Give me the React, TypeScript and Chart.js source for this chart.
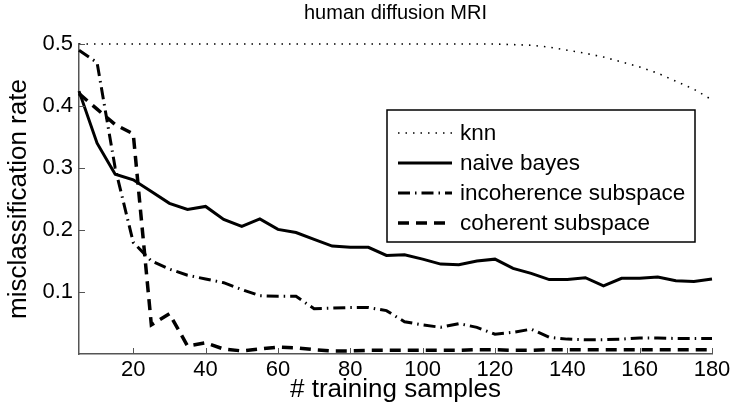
import React, { useEffect, useRef } from 'react';
import { Chart, registerables } from 'chart.js';

Chart.register(...registerables);

// ---- data ----
const samples = [5, 10, 15, 20, 25, 30, 35, 40, 45, 50, 55, 60, 65, 70, 75, 80, 85, 90, 95, 100, 105, 110, 115, 120, 125, 130, 135, 140, 145, 150, 155, 160, 165, 170, 175, 180];

const knn = [0.5, 0.5, 0.5, 0.5, 0.5, 0.5, 0.5, 0.5, 0.5, 0.5, 0.5, 0.5, 0.5, 0.5, 0.5, 0.5, 0.5, 0.5, 0.5, 0.5, 0.5, 0.5, 0.5, 0.5, 0.499, 0.498, 0.495, 0.49, 0.485, 0.479, 0.471, 0.463, 0.453, 0.44, 0.427, 0.41];

const naiveBayes = [0.424, 0.34, 0.29, 0.281, 0.262, 0.243, 0.233, 0.238, 0.217, 0.206, 0.218, 0.201, 0.196, 0.185, 0.174, 0.172, 0.172, 0.159, 0.16, 0.153, 0.145, 0.144, 0.15, 0.153, 0.138, 0.13, 0.12, 0.12, 0.123, 0.11, 0.122, 0.122, 0.124, 0.118, 0.117, 0.121];

const incoherence = [0.49, 0.47, 0.3, 0.18, 0.15, 0.137, 0.127, 0.121, 0.115, 0.104, 0.094, 0.093, 0.093, 0.073, 0.074, 0.075, 0.075, 0.07, 0.052, 0.047, 0.043, 0.049, 0.043, 0.032, 0.035, 0.04, 0.027, 0.024, 0.023, 0.023, 0.024, 0.026, 0.026, 0.025, 0.025, 0.025];

const coherent = [0.42, 0.395, 0.37, 0.355, 0.047, 0.065, 0.013, 0.018, 0.008, 0.005, 0.008, 0.011, 0.01, 0.007, 0.005, 0.005, 0.006, 0.006, 0.006, 0.006, 0.006, 0.006, 0.007, 0.007, 0.006, 0.006, 0.007, 0.007, 0.007, 0.007, 0.007, 0.007, 0.007, 0.007, 0.007, 0.007];

const seriesNames = ['knn', 'naive bayes', 'incoherence subspace', 'coherent subspace'];
const xTicks = [20, 40, 60, 80, 100, 120, 140, 160, 180];
const yTicks = [0.1, 0.2, 0.3, 0.4, 0.5];

const titleText = 'human diffusion MRI';
const xTitle = '# training samples';
const yTitle = 'misclassification rate';

const FONT = '"Liberation Sans", Arial, Helvetica, sans-serif';
const AXIS = '#555';

const legendPlugin = {
  id: 'boxLegend',
  afterDraw(chart: any) {
    const { ctx, chartArea: ca } = chart;
    const left = ca.left + 308;
    const top = ca.top + 66;
    const w = 308;
    const h = 132;
    ctx.save();
    ctx.fillStyle = '#fff';
    ctx.fillRect(left, top, w, h);
    ctx.strokeStyle = '#000';
    ctx.lineWidth = 1.5;
    ctx.setLineDash([]);
    ctx.strokeRect(left, top, w, h);
    chart.data.datasets.forEach((ds: any, i: number) => {
      const y = top + 23 + i * 30;
      ctx.beginPath();
      ctx.setLineDash(ds.borderDash || []);
      ctx.lineWidth = ds.borderWidth;
      ctx.strokeStyle = ds.borderColor;
      ctx.moveTo(left + 11, y);
      ctx.lineTo(left + 65, y);
      ctx.stroke();
      ctx.setLineDash([]);
      ctx.fillStyle = '#000';
      ctx.font = `22.5px ${FONT}`;
      ctx.textBaseline = 'middle';
      ctx.textAlign = 'left';
      ctx.fillText(ds.label, left + 73, y + 1);
    });
    ctx.restore();
  },
};

const inwardTicks = {
  id: 'inwardTicks',
  afterDraw(chart: any) {
    const { ctx, chartArea: ca, scales } = chart;
    ctx.save();
    ctx.strokeStyle = AXIS;
    ctx.lineWidth = 1;
    ctx.beginPath();
    xTicks.forEach((v) => {
      const px = Math.round(scales.x.getPixelForValue(v)) + 0.5;
      ctx.moveTo(px, ca.bottom);
      ctx.lineTo(px, ca.bottom - 6);
    });
    yTicks.forEach((v) => {
      const py = Math.round(scales.y.getPixelForValue(v)) + 0.5;
      ctx.moveTo(ca.left, py);
      ctx.lineTo(ca.left + 6, py);
    });
    ctx.stroke();
    ctx.restore();
  },
};

export default function App() {
  const ref = useRef<HTMLCanvasElement>(null);
  useEffect(() => {
    if (!ref.current) return;
    const styles = [
      { dash: [1.5, 6], width: 1.6 },
      { dash: [], width: 3 },
      { dash: [12, 5, 1.5, 5], width: 3 },
      { dash: [11, 7], width: 3.5 },
    ];
    const series = [knn, naiveBayes, incoherence, coherent];
    const chart = new Chart(ref.current, {
      type: 'line',
      data: {
        datasets: series.map((s, i) => ({
          label: seriesNames[i],
          data: samples.map((x, j) => ({ x, y: s[j] })),
          borderColor: '#000',
          backgroundColor: '#000',
          borderWidth: styles[i].width,
          borderDash: styles[i].dash,
          pointRadius: 0,
          tension: 0,
          fill: false,
          clip: false as any,
        })),
      },
      options: {
        animation: false,
        responsive: false,
        layout: { padding: { left: 0, right: 22, top: 0, bottom: 0 } },
        plugins: {
          legend: { display: false },
          tooltip: { enabled: false },
          title: {
            display: true,
            fullSize: false,
            text: titleText,
            color: '#000',
            font: { family: FONT, size: 20, weight: 'normal' },
            padding: { top: 1, bottom: 19 },
          },
        },
        scales: {
          x: {
            type: 'linear',
            min: 5,
            max: 180,
            afterBuildTicks: (s: any) => { s.ticks = xTicks.map((v) => ({ value: v })); },
            afterFit: (s: any) => { s.height = 56; },
            grid: { display: false, drawTicks: false },
            border: { display: true, color: AXIS, width: 1.5 },
            ticks: { color: '#000', padding: 3, maxRotation: 0, autoSkip: false, font: { family: FONT, size: 22 } },
            title: { display: true, text: xTitle, color: '#000', font: { family: FONT, size: 26 }, padding: { top: 0, bottom: 5 } },
          },
          y: {
            type: 'linear',
            min: 0,
            max: 0.5,
            afterBuildTicks: (s: any) => { s.ticks = yTicks.map((v) => ({ value: v })); },
            afterFit: (s: any) => { s.width = 79; },
            grid: { display: false, drawTicks: false },
            border: { display: true, color: AXIS, width: 1.5 },
            ticks: { color: '#000', padding: 6, autoSkip: false, font: { family: FONT, size: 22 }, callback: (v: any) => String(Number(v).toFixed(1)) },
            title: { display: true, text: yTitle, color: '#000', font: { family: FONT, size: 26 }, padding: { top: 3, bottom: 0 } },
          },
        },
      },
      plugins: [inwardTicks, legendPlugin],
    });
    return () => chart.destroy();
  }, []);
  return (
    <div style={{ position: 'fixed', left: 0, top: 0, width: 734, height: 410, background: '#fff' }}>
      <canvas ref={ref} width={734} height={410} style={{ display: 'block' }} />
    </div>
  );
}
